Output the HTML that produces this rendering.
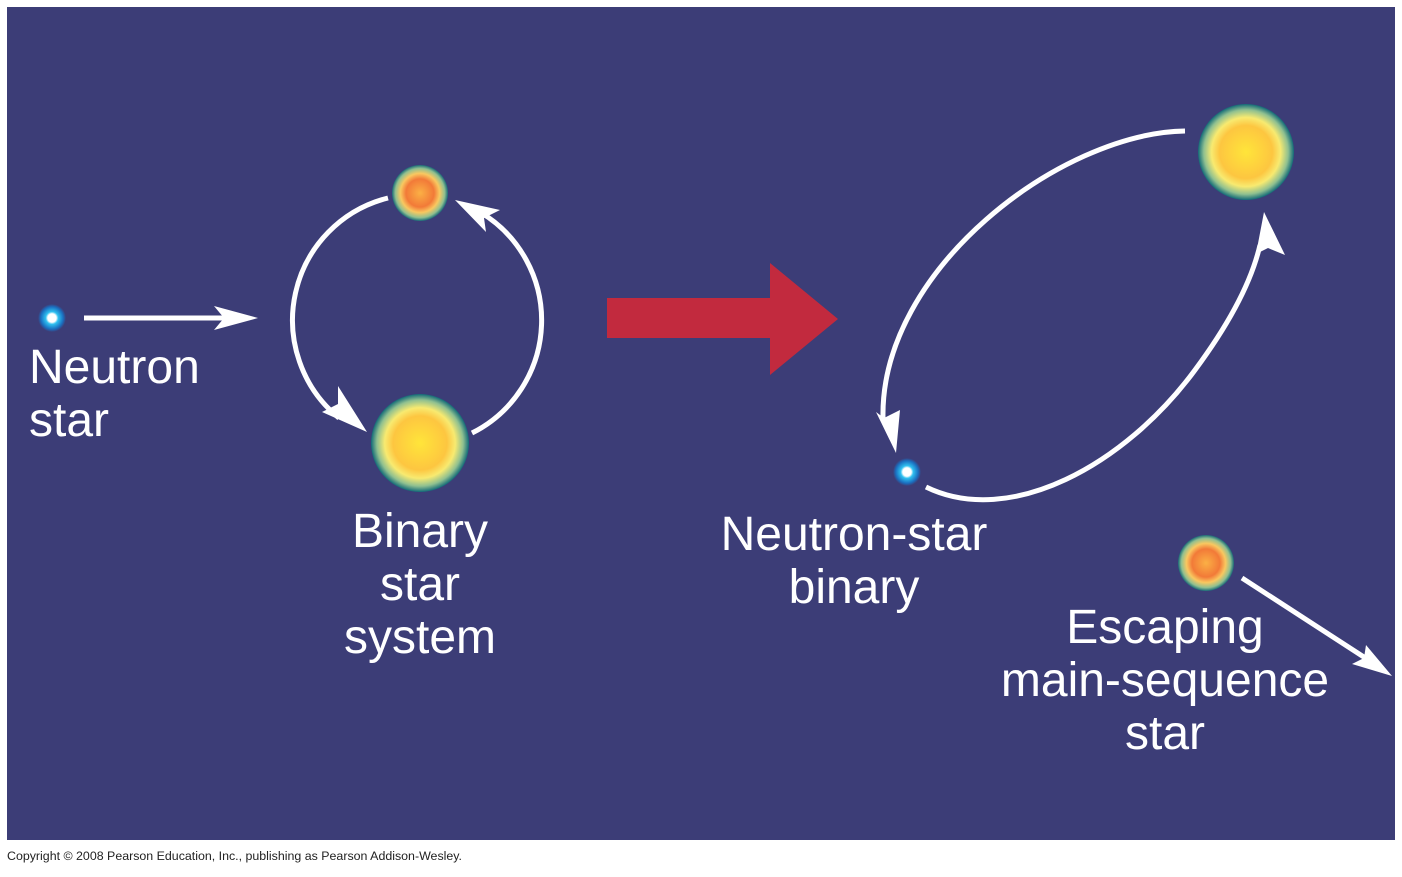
<!DOCTYPE html>
<html><head><meta charset="utf-8"><style>
body{margin:0;background:#fff;width:1402px;height:872px;overflow:hidden;font-family:"Liberation Sans",sans-serif}
</style></head><body>
<svg width="1402" height="872" xmlns="http://www.w3.org/2000/svg" font-family="Liberation Sans, sans-serif">
<defs>
<radialGradient id="big"><stop offset="0" stop-color="#ffe53a"/><stop offset="0.55" stop-color="#fdc640"/><stop offset="0.72" stop-color="#f8ea70"/><stop offset="0.88" stop-color="#8fc090"/><stop offset="1" stop-color="#126a78"/></radialGradient>
<radialGradient id="sm"><stop offset="0" stop-color="#fbb045"/><stop offset="0.5" stop-color="#f27a38"/><stop offset="0.7" stop-color="#f9c860"/><stop offset="0.88" stop-color="#90c090"/><stop offset="1" stop-color="#1a6a78"/></radialGradient>
<radialGradient id="ns"><stop offset="0" stop-color="#fff"/><stop offset="0.3" stop-color="#fff"/><stop offset="0.45" stop-color="#2fc0f0"/><stop offset="0.8" stop-color="#1a6fc0"/><stop offset="1" stop-color="#3c3d77"/></radialGradient>
</defs>
<rect x="7" y="7" width="1388" height="833" fill="#3c3d77"/>
<g fill="none" stroke="#fff" stroke-width="5">
<path d="M84,318 L228,318"/>
<path d="M388,198 A126,126 0 0 0 339,418"/>
<path d="M472,433 A126,126 0 0 0 480,212"/>
<path d="M1185,131 C1060,133 880,270 883,418"/>
<path d="M926,487 C1010,528 1125,465 1195,370 C1232,320 1252,280 1260,245"/>
<path d="M1242,578 L1370,661"/>
</g>
<g fill="#fff">
<path d="M258,318 L214,306 L224,318 L214,330Z"/>
<path d="M367,432 L322,412 L338,404 L338,386Z"/>
<path d="M455,200 L500,210 L484,218 L486,232Z"/>
<path d="M896,453 L876,412 L884,418 L900,410Z"/>
<path d="M1264,212 L1285,255 L1268,248 L1256,254Z"/>
<path d="M1392,676 L1352,664 L1364,658 L1366,645Z"/>
</g>
<path d="M607,298 H770 V263 L838,319 L770,375 V338 H607Z" fill="#c22a3e"/>
<circle cx="420" cy="193" r="28" fill="url(#sm)"/>
<circle cx="420" cy="443" r="49" fill="url(#big)"/>
<circle cx="1246" cy="152" r="48" fill="url(#big)"/>
<circle cx="1206" cy="563" r="28" fill="url(#sm)"/>
<circle cx="52" cy="318" r="14" fill="url(#ns)"/>
<circle cx="907" cy="472" r="14" fill="url(#ns)"/>
<g fill="#fff" font-size="48">
<text x="29" y="383">Neutron</text>
<text x="29" y="436">star</text>
<g text-anchor="middle">
<text x="420" y="547">Binary</text>
<text x="420" y="600">star</text>
<text x="420" y="653">system</text>
<text x="854" y="550">Neutron-star</text>
<text x="854" y="603">binary</text>
<text x="1165" y="643">Escaping</text>
<text x="1165" y="696">main-sequence</text>
<text x="1165" y="749">star</text>
</g></g>
<text x="7" y="860" font-size="12.4" fill="#222">Copyright © 2008 Pearson Education, Inc., publishing as Pearson Addison-Wesley.</text>
</svg>
</body></html>
